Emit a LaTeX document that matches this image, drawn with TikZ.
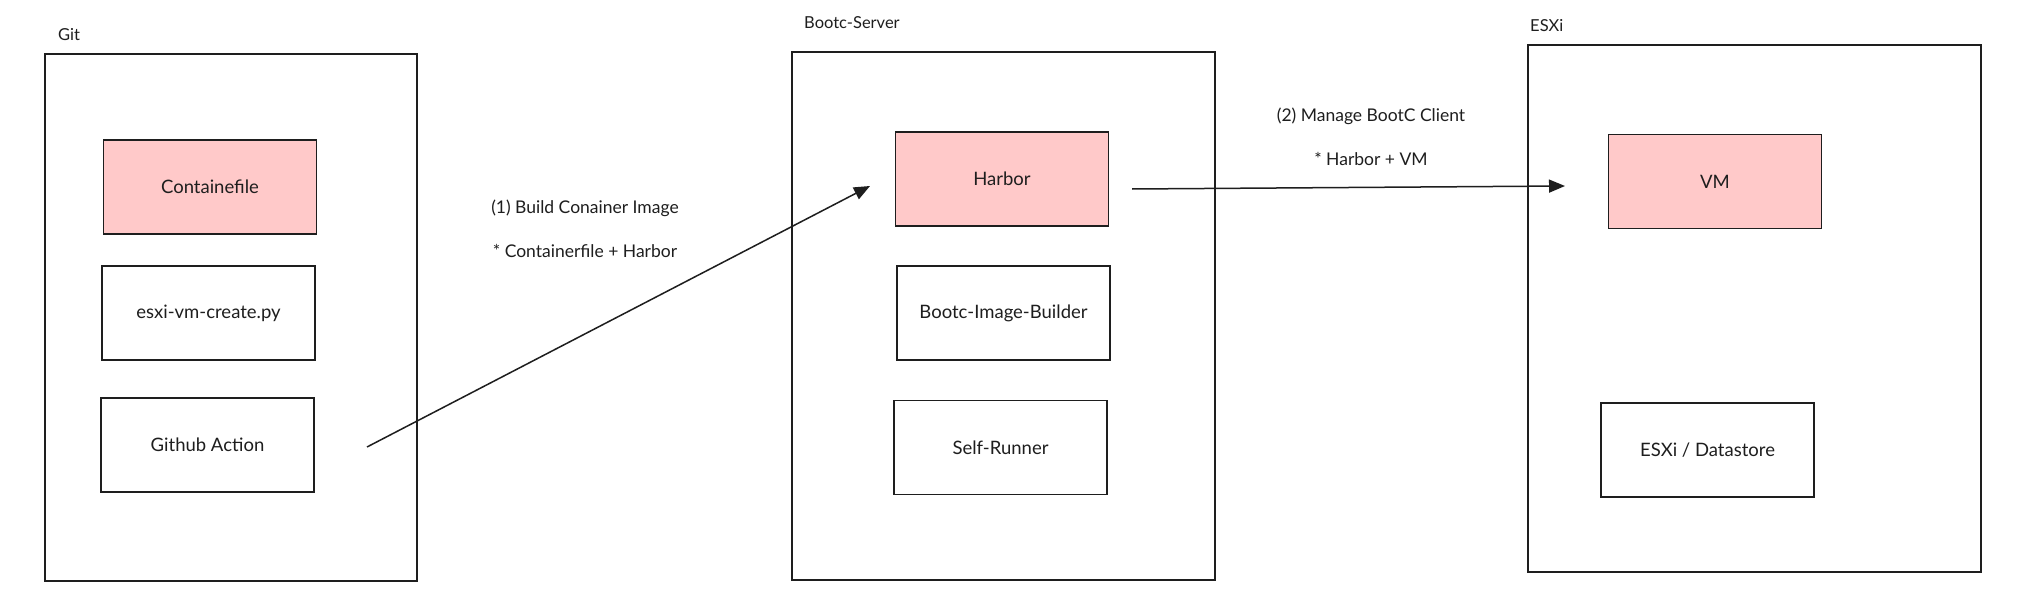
\documentclass[tikz,border=0pt]{standalone}
\usepackage{fontspec}
\setmainfont{Lato}
\usetikzlibrary{arrows.meta}
\definecolor{ink}{HTML}{1E1E1E}
\definecolor{pinkfill}{HTML}{FFC9C9}
\tikzset{
  container/.style={draw=ink, line width=1.5pt},
  itembox/.style={draw=ink, line width=1.6pt, minimum width=213pt, minimum height=94pt, inner sep=0pt, font=\fontsize{18.5}{22}\selectfont, text=ink},
  hot/.style={itembox, fill=pinkfill},
  title/.style={font=\fontsize{16.5}{20}\selectfont, text=ink, inner sep=0pt, anchor=west},
  lbl/.style={font=\fontsize{17.5}{21}\selectfont, text=ink, inner sep=0pt},
  arr/.style={draw=ink, line width=1.5pt, -{Triangle[length=16pt,width=13pt]}}
}
\begin{document}
\begin{tikzpicture}[x=1pt,y=-1pt]
\useasboundingbox[fill=white] (0,0) rectangle (2026,607);
% containers
\node[container, minimum width=372pt, minimum height=527pt, inner sep=0pt] (git) at (231,317.5) {};
\node[container, minimum width=423pt, minimum height=528pt, inner sep=0pt] (srv) at (1003.5,316) {};
\node[container, minimum width=453pt, minimum height=527pt, inner sep=0pt] (esx) at (1754.5,308.5) {};
\node[title] (gitlbl) at (58,35) {Git};
\node[title] (srvlbl) at (804,23) {Bootc-Server};
\node[title] (esxlbl) at (1530,26) {ESXi};
% items
\node[hot] (cf) at (210,187) {Containefile};
\node[itembox] (py) at (208.5,313) {esxi-vm-create.py};
\node[itembox] (gh) at (207.5,445) {Github Action};
\node[hot] (hb) at (1002,179) {Harbor};
\node[itembox] (bib) at (1003.5,313) {Bootc-Image-Builder};
\node[itembox] (sr) at (1000.5,447.5) {Self-Runner};
\node[hot] (vm) at (1715,181.5) {VM};
\node[itembox] (ds) at (1707.5,450) {ESXi / Datastore};
% arrows
\coordinate (a1s) at (367,447);
\coordinate (a1e) at (870,186);
\coordinate (a2s) at (1132,189);
\coordinate (a2e) at (1565,186);
\draw[arr] (a1s) -- (a1e);
\draw[arr] (a2s) -- (a2e);
% labels
\node[lbl] (l1a) at (585,208) {(1) Build Conainer Image};
\node[lbl] (l1b) at (585,251) {* Containerfile + Harbor};
\node[lbl] (l2a) at (1371,116) {(2) Manage BootC Client};
\node[lbl] (l2b) at (1371,159) {* Harbor + VM};
\end{tikzpicture}
\end{document}
